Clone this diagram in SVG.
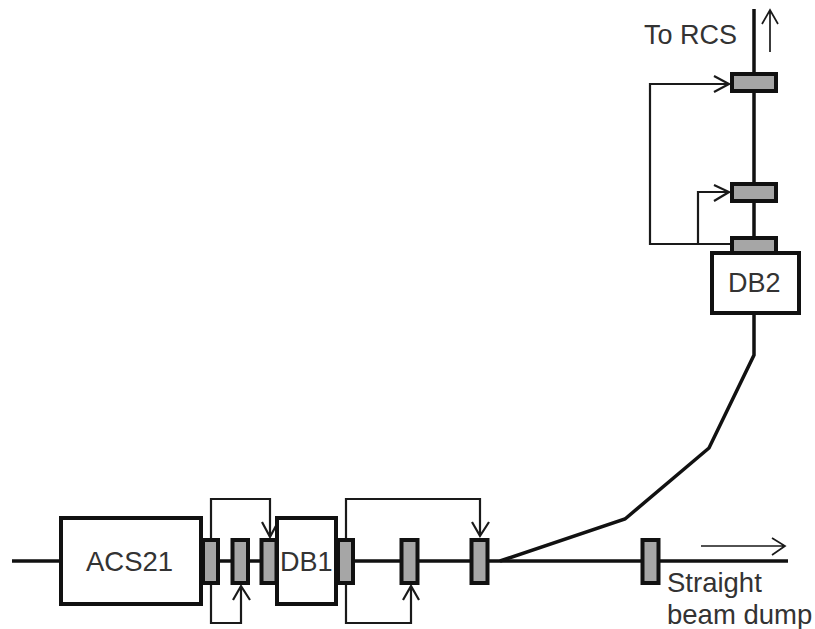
<svg xmlns="http://www.w3.org/2000/svg" width="815" height="629" viewBox="0 0 815 629">
<style>
.beam{fill:none;stroke:#111;stroke-width:3.5}
.fb{fill:none;stroke:#1a1a1a;stroke-width:2.2}
.thin{fill:none;stroke:#1a1a1a;stroke-width:1.7}
.box{fill:#fff;stroke:#111;stroke-width:4}
.mon{fill:#a6a6a6;stroke:#111;stroke-width:4}
text{font-family:"Liberation Sans",Arial,sans-serif;font-size:27px;fill:#333}
</style>
<rect width="815" height="629" fill="#fff"/>
<g id="connectors">
<path class="beam" d="M12 561H788"/>
<path class="beam" d="M500 561L625 519L709 448L754 355V9"/>
<path class="fb" d="M211 540V499H270V537M262 522L270 537L278 522"/>
<path class="fb" d="M211 583V623H241V586M233 600L241 586L250 600"/>
<path class="fb" d="M346 540V499H480V536M472 522L480 536L489 522"/>
<path class="fb" d="M346 583V623H411V586M403 600L411 586L419 600"/>
<path class="fb" d="M732 244H650V84H729M714 76L729 84L714 92"/>
<path class="fb" d="M698 244V192H729M714 185L729 192L714 201"/>
<path class="thin" d="M770 52V10M762 24L770 10L778 24"/>
<path class="thin" d="M701 546H785M772 538L785 546L772 555"/>
</g>
<g id="acs21"><rect class="box" x="61" y="518" width="140" height="86"/><text x="86" y="571" style="font-size:27.500px">ACS21</text></g>
<g id="mon1"><rect class="mon" x="203" y="540" width="15" height="43"/></g>
<g id="mon2"><rect class="mon" x="232.500" y="540" width="15.500" height="43"/></g>
<g id="mon3"><rect class="mon" x="261.500" y="540" width="15" height="43"/></g>
<g id="db1"><rect class="box" x="277" y="518" width="59" height="86"/><text x="280" y="571">DB1</text></g>
<g id="mon4"><rect class="mon" x="338" y="540" width="15" height="43"/></g>
<g id="mon5"><rect class="mon" x="401.500" y="540" width="16" height="43"/></g>
<g id="mon6"><rect class="mon" x="471.500" y="540" width="16" height="43"/></g>
<g id="mon7"><rect class="mon" x="642.500" y="540" width="16" height="43"/></g>
<g id="mon8"><rect class="mon" x="732" y="74" width="44" height="17"/></g>
<g id="mon9"><rect class="mon" x="732" y="184" width="44" height="17"/></g>
<g id="mon10"><rect class="mon" x="732" y="238" width="44" height="17"/></g>
<g id="db2"><rect class="box" x="712" y="253" width="87" height="60"/><text x="728" y="292">DB2</text></g>
<g id="label-rcs"><text x="644" y="44">To RCS</text></g>
<g id="label-dump"><text x="667" y="592" style="font-size:27.500px">Straight</text><text x="667" y="624" style="font-size:27.500px">beam dump</text></g>
</svg>
